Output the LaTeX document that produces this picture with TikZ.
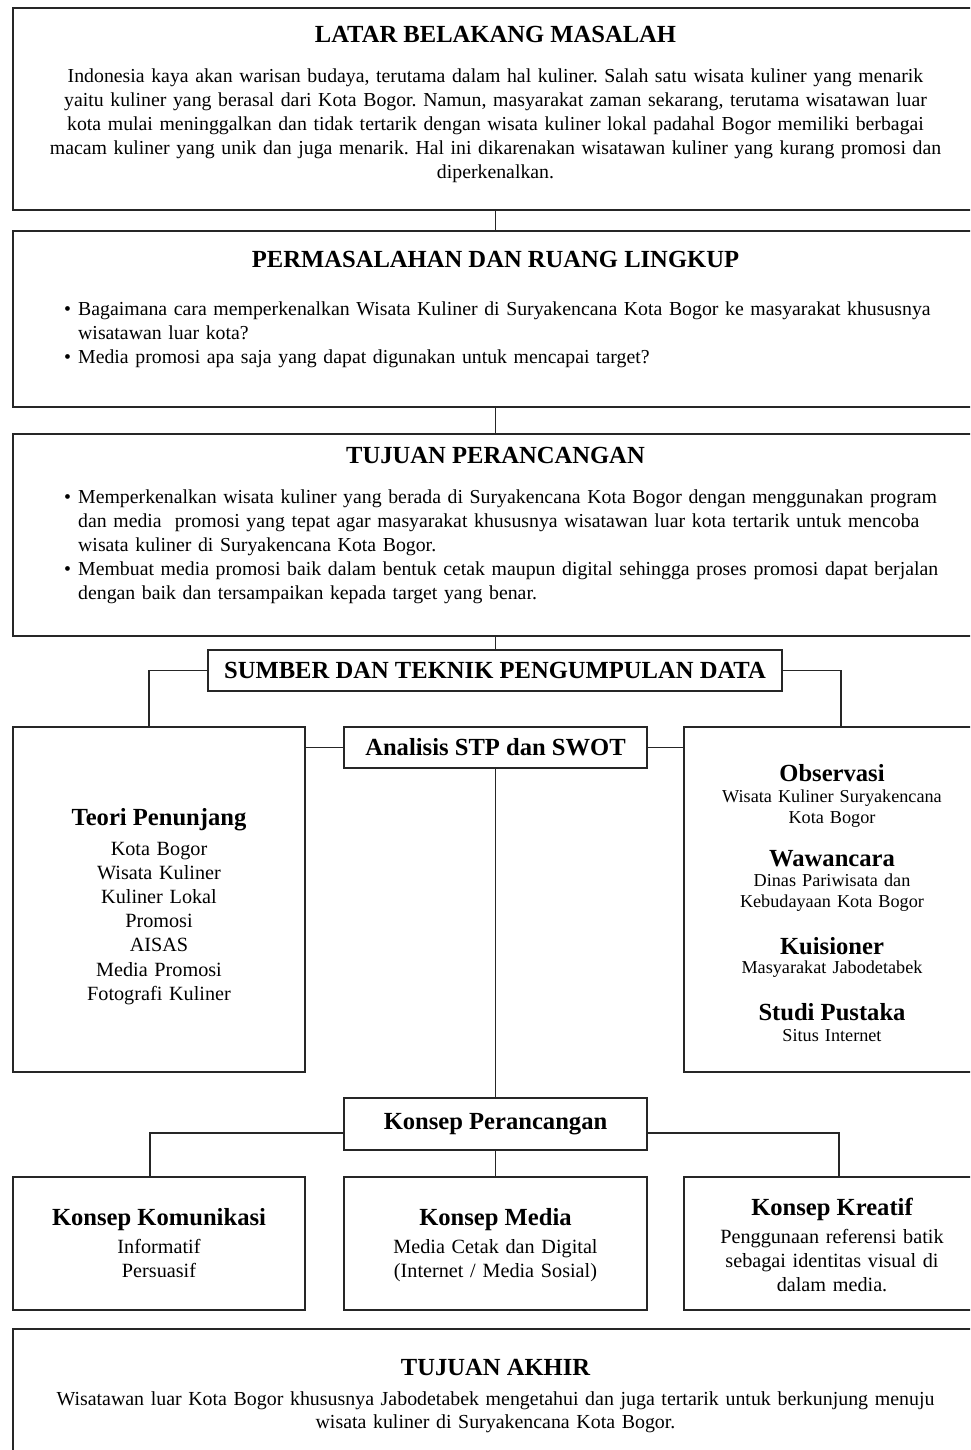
\documentclass[tikz,border=0pt]{standalone}
\usepackage{fontspec}
\setmainfont{Liberation Serif}
\frenchspacing
\definecolor{lc}{HTML}{262626}
\begin{document}
\frenchspacing
\begin{tikzpicture}[x=1pt,y=-1pt,
  box/.style={draw=lc, line width=1.5pt, inner sep=0pt, outer sep=0pt, anchor=north west},
  conn/.style={draw=lc, line width=1.5pt},
  ttl/.style={font=\fontsize{24.6}{29}\selectfont\bfseries, inner sep=0pt, anchor=base},
  body/.style={font=\fontsize{20.2}{24}\selectfont, inner sep=0pt, anchor=base, align=center},
  para/.style={font=\fontsize{19.8}{24}\selectfont, inner sep=0pt, anchor=base, align=center},
  lst/.style={font=\fontsize{19.8}{24}\selectfont, inner sep=0pt, anchor=base west, text width=910pt, align=left},
  sub/.style={font=\fontsize{18.2}{21}\selectfont, inner sep=0pt, anchor=base, align=center},
  boxttl/.style={box, font=\fontsize{24.6}{29}\selectfont\bfseries}
]
\useasboundingbox (0,0) rectangle (970,1450);
\clip (0,0) rectangle (970,1450);
\newcommand{\bul}{\makebox[14pt][l]{•}}
\newcommand{\ind}{\hspace*{14pt}}

% boxes
\node[box, minimum width=965pt, minimum height=202pt] (b1) at (13,8) {};
\node[box, minimum width=965pt, minimum height=176pt] (b2) at (13,231) {};
\node[box, minimum width=965pt, minimum height=202pt] (b3) at (13,434) {};
\node[boxttl, minimum width=574pt, minimum height=41pt] (sum) at (208,650) {SUMBER DAN TEKNIK PENGUMPULAN DATA};
\node[box, minimum width=292pt, minimum height=345pt] (teori) at (13,727) {};
\node[boxttl, minimum width=303pt, minimum height=41pt] (ana) at (344,727) {Analisis STP dan SWOT};
\node[box, minimum width=296pt, minimum height=345pt] (obs) at (684,727) {};
\node[boxttl, minimum width=303pt, minimum height=52pt] (kp) at (344,1098) {Konsep Perancangan};
\node[box, minimum width=292pt, minimum height=133pt] (kkom) at (13,1177) {};
\node[box, minimum width=303pt, minimum height=133pt] (kmed) at (344,1177) {};
\node[box, minimum width=296pt, minimum height=133pt] (kkre) at (684,1177) {};
\node[box, minimum width=965pt, minimum height=140pt] (akhir) at (13,1329) {};

% coordinates for connector ends
\coordinate (sumL) at (149,727);
\coordinate (sumR) at (841,727);
\coordinate (kpL) at (344,1133);
\coordinate (kpR) at (647,1133);
\coordinate (kkomT) at (150,1177);
\coordinate (kkreT) at (839,1177);

% connectors
\draw[conn] (b1.south) -- (b2.north);
\draw[conn] (b2.south) -- (b3.north);
\draw[conn] (b3.south) -- (b3.south |- sum.north);
\draw[conn] (sum.west) -| (sumL);
\draw[conn] (sum.east) -| (sumR);
\draw[conn] (ana.west) -- (ana.west -| teori.east);
\draw[conn] (ana.east) -- (ana.east -| obs.west);
\draw[conn] (ana.south) -- (kp.north);
\draw[conn] (kpL) -| (kkomT);
\draw[conn] (kpR) -| (kkreT);
\draw[conn] (kp.south) -- (kmed.north);

% box 1
\node[ttl] (t1) at (495.5,43) {LATAR BELAKANG MASALAH};
\node[para, text width=950pt] (p1) at (495.5,83) {Indonesia kaya akan warisan budaya, terutama dalam hal kuliner. Salah satu wisata kuliner yang menarik\\
yaitu kuliner yang berasal dari Kota Bogor. Namun, masyarakat zaman sekarang, terutama wisatawan luar\\
kota mulai meninggalkan dan tidak tertarik dengan wisata kuliner lokal padahal Bogor memiliki berbagai\\
macam kuliner yang unik dan juga menarik. Hal ini dikarenakan wisatawan kuliner yang kurang promosi dan\\
diperkenalkan.};

% box 2
\node[ttl] (t2) at (495.5,267) {PERMASALAHAN DAN RUANG LINGKUP};
\node[lst] (l2) at (64,315) {\bul Bagaimana cara memperkenalkan Wisata Kuliner di Suryakencana Kota Bogor ke masyarakat khususnya\\
\ind wisatawan luar kota?\\
\bul Media promosi apa saja yang dapat digunakan untuk mencapai target?};

% box 3
\node[ttl] (t3) at (495.5,463) {TUJUAN PERANCANGAN};
\node[lst] (l3) at (64,503) {\bul Memperkenalkan wisata kuliner yang berada di Suryakencana Kota Bogor dengan menggunakan program\\
\ind dan media\ \ promosi yang tepat agar masyarakat khususnya wisatawan luar kota tertarik untuk mencoba\\
\ind wisata kuliner di Suryakencana Kota Bogor.\\
\bul Membuat media promosi baik dalam bentuk cetak maupun digital sehingga proses promosi dapat berjalan\\
\ind dengan baik dan tersampaikan kepada target yang benar.};

% Teori Penunjang
\node[ttl] (tp) at (159,825) {Teori Penunjang};
\node[body, text width=280pt, font=\fontsize{20.2}{24.2}\selectfont] (tpl) at (159,855) {Kota Bogor\\Wisata Kuliner\\Kuliner Lokal\\Promosi\\AISAS\\Media Promosi\\Fotografi Kuliner};

% right column
\node[ttl] (ob) at (832,781) {Observasi};
\node[sub, text width=290pt] (obt) at (832,802) {Wisata Kuliner Suryakencana\\Kota Bogor};
\node[ttl] (ww) at (832,866) {Wawancara};
\node[sub, text width=290pt] (wwt) at (832,886) {Dinas Pariwisata dan\\Kebudayaan Kota Bogor};
\node[ttl] (ku) at (832,954) {Kuisioner};
\node[sub, text width=290pt] (kut) at (832,973) {Masyarakat Jabodetabek};
\node[ttl] (sp) at (832,1020) {Studi Pustaka};
\node[sub, text width=290pt] (spt) at (832,1041) {Situs Internet};

% lower boxes
\node[ttl] (kk) at (159,1225) {Konsep Komunikasi};
\node[body, text width=280pt] (kkt) at (159,1253) {Informatif\\Persuasif};
\node[ttl] (km) at (495.5,1225) {Konsep Media};
\node[body, text width=290pt] (kmt) at (495.5,1253) {Media Cetak dan Digital\\(Internet / Media Sosial)};
\node[ttl] (kr) at (832,1215) {Konsep Kreatif};
\node[body, text width=290pt] (krt) at (832,1243) {Penggunaan referensi batik\\sebagai identitas visual di\\dalam media.};

% final box
\node[ttl] (ta) at (495.5,1375) {TUJUAN AKHIR};
\node[para, text width=950pt, font=\fontsize{19.9}{23}\selectfont] (tat) at (495.5,1405) {Wisatawan luar Kota Bogor khususnya Jabodetabek mengetahui dan juga tertarik untuk berkunjung menuju\\
wisata kuliner di Suryakencana Kota Bogor.};
\end{tikzpicture}
\end{document}
